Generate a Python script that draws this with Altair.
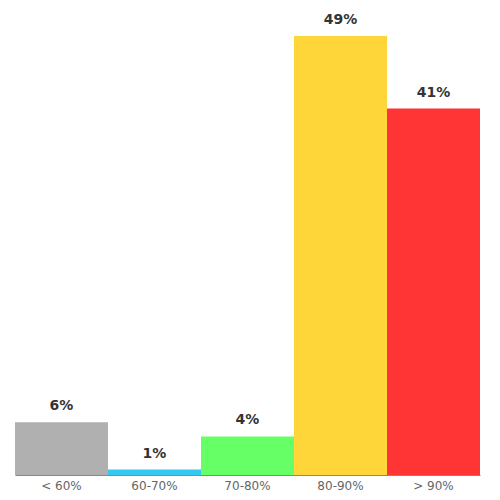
import altair as alt
import pandas as pd

categories = ["< 60%", "60-70%", "70-80%", "80-90%", "> 90%"]
values = [5.9, 0.6, 4.3, 49.0, 40.9]
colors = ["#b0b0b0", "#36c8f0", "#66ff66", "#ffd63a", "#ff3535"]

df = pd.DataFrame({"cat": categories, "val": values, "col": colors})

x = alt.X("cat:N", sort=categories, title=None,
          scale=alt.Scale(paddingInner=0, paddingOuter=0),
          axis=alt.Axis(labelAngle=0, ticks=False, labelColor="#666666",
                        labelFont="DejaVu Sans", labelFontSize=12,
                        domainColor="#888888", labelPadding=5))
y = alt.Y("val:Q", scale=alt.Scale(domain=[0, 50], nice=False), axis=None)

bars = alt.Chart(df).mark_bar().encode(
    x=x, y=y, color=alt.Color("col:N", scale=None)
)
text = alt.Chart(df).transform_calculate(
    lbl="format(datum.val, '.0f') + '%'"
).mark_text(
    dy=-16, font="DejaVu Sans", fontSize=14, fontWeight="bold", color="#333333"
).encode(x=x, y=y, text="lbl:N")

chart = (bars + text).properties(
    width=465, height=448,
    autosize=alt.AutoSizeParams(type="none"),
    padding={"left": 7, "top": 19, "right": 5, "bottom": 25},
).configure_view(stroke=None)

chart.save("out.html", embed_options={"renderer": "svg", "actions": False})
